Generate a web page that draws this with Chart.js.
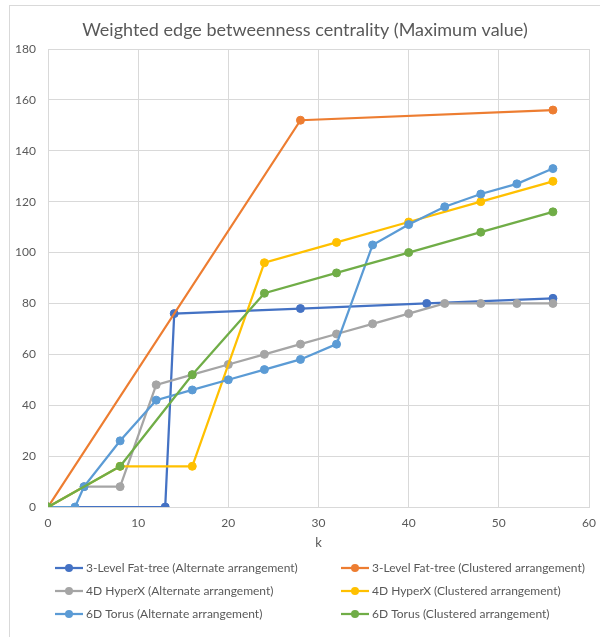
<!DOCTYPE html>
<html>
<head>
<meta charset="utf-8">
<script src="https://cdn.jsdelivr.net/npm/chart.js@4.4.0/dist/chart.umd.min.js"></script>
<style>
  html, body { margin: 0; padding: 0; background: #ffffff; }
  #wrap { position: relative; width: 600px; height: 637px; }
</style>
</head>
<body>
<div id="wrap"><canvas id="chart" width="600" height="637"></canvas></div>
<script>
// Maximum weighted edge betweenness centrality versus k
const chartTitle = 'Weighted edge betweenness centrality (Maximum value)';
const seriesNames = [
  '3-Level Fat-tree (Alternate arrangement)',
  '3-Level Fat-tree (Clustered arrangement)',
  '4D HyperX (Alternate arrangement)',
  '4D HyperX (Clustered arrangement)',
  '6D Torus (Alternate arrangement)',
  '6D Torus (Clustered arrangement)'
];
const seriesColors = ['#4472C4', '#ED7D31', '#A5A5A5', '#FFC000', '#5B9BD5', '#70AD47'];

const fatTreeAltK = [0, 13, 14, 28, 42, 56];
const fatTreeAltV = [0, 0, 76, 78, 80, 82];

const fatTreeCluK = [0, 28, 56];
const fatTreeCluV = [0, 152, 156];

const hyperXAltK = [0, 4, 8, 12, 16, 20, 24, 28, 32, 36, 40, 44, 48, 52, 56];
const hyperXAltV = [0, 8, 8, 48, 52, 56, 60, 64, 68, 72, 76, 80, 80, 80, 80];

const hyperXCluK = [0, 8, 16, 24, 32, 40, 48, 56];
const hyperXCluV = [0, 16, 16, 96, 104, 112, 120, 128];

const torusAltK = [0, 3, 4, 8, 12, 16, 20, 24, 28, 32, 36, 40, 44, 48, 52, 56];
const torusAltV = [0, 0, 8, 26, 42, 46, 50, 54, 58, 64, 103, 111, 118, 123, 127, 133];

const torusCluK = [0, 8, 16, 24, 32, 40, 48, 56];
const torusCluV = [0, 16, 52, 84, 92, 100, 108, 116];

// axis ranges and tick spacing
const xMin = 0, xMax = 60, xStep = 10;
const yMin = 0, yMax = 180, yStep = 20;

const seriesK = [fatTreeAltK, fatTreeCluK, hyperXAltK, hyperXCluK, torusAltK, torusCluK];
const seriesV = [fatTreeAltV, fatTreeCluV, hyperXAltV, hyperXCluV, torusAltV, torusCluV];

const FONT = 'Lato, "Open Sans", sans-serif';
const TEXT = '#595959';
const GRID = '#d9d9d9';

const datasets = seriesNames.map((name, i) => ({
  label: name,
  data: seriesK[i].map((k, j) => ({ x: k, y: seriesV[i][j] })),
  borderColor: seriesColors[i],
  backgroundColor: seriesColors[i],
  pointBackgroundColor: seriesColors[i],
  pointBorderColor: seriesColors[i],
  pointRadius: 4,
  pointBorderWidth: 1,
  borderWidth: 2.25,
  tension: 0,
  fill: false,
  // later series are drawn on top
  order: seriesNames.length - i
}));

// White background, outer frame and the title
const framePlugin = {
  id: 'frame',
  beforeDraw(chart) {
    const ctx = chart.ctx;
    ctx.save();
    ctx.fillStyle = '#ffffff';
    ctx.fillRect(0, 0, chart.width, chart.height);
    ctx.strokeStyle = GRID;
    ctx.lineWidth = 1;
    ctx.strokeRect(9.5, 5.5, chart.width + 20, chart.height + 20);
    ctx.fillStyle = TEXT;
    ctx.font = '18px ' + FONT;
    ctx.textAlign = 'center';
    ctx.textBaseline = 'middle';
    ctx.fillText(chartTitle, 305, 30);
    ctx.restore();
  }
};

// Two-column legend below the axis
const legendPlugin = {
  id: 'gridLegend',
  afterDraw(chart) {
    const ctx = chart.ctx;
    const cols = [55, 341];
    const rows = [568, 591, 614];
    ctx.save();
    ctx.font = '12px ' + FONT;
    ctx.textBaseline = 'middle';
    ctx.textAlign = 'left';
    chart.data.datasets.forEach((ds, i) => {
      const x = cols[i % 2];
      const y = rows[Math.floor(i / 2)];
      ctx.strokeStyle = ds.borderColor;
      ctx.lineWidth = 2.25;
      ctx.beginPath();
      ctx.moveTo(x, y);
      ctx.lineTo(x + 28, y);
      ctx.stroke();
      ctx.fillStyle = ds.borderColor;
      ctx.beginPath();
      ctx.arc(x + 14, y, 4, 0, Math.PI * 2);
      ctx.fill();
      ctx.fillStyle = TEXT;
      ctx.fillText(ds.label, x + 31, y);
    });
    ctx.restore();
  }
};

new Chart(document.getElementById('chart'), {
  type: 'line',
  data: { datasets },
  plugins: [framePlugin, legendPlugin],
  options: {
    responsive: false,
    animation: false,
    layout: { autoPadding: false, padding: { left: 0, right: 11, top: 49, bottom: 80 } },
    plugins: {
      legend: { display: false },
      tooltip: { enabled: false },
      title: { display: false }
    },
    scales: {
      x: {
        type: 'linear',
        min: xMin,
        max: xMax,
        afterFit(scale) { scale.height = 50; },
        grid: { color: GRID, lineWidth: 1, drawTicks: true, tickLength: 6, tickColor: 'rgba(0,0,0,0)' },
        border: { color: GRID },
        ticks: { stepSize: xStep, color: TEXT, padding: 3, font: { family: FONT, size: 12 } },
        title: {
          display: true,
          text: 'k',
          color: TEXT,
          font: { family: FONT, size: 13 },
          padding: { top: 0, bottom: 6 }
        }
      },
      y: {
        type: 'linear',
        min: yMin,
        max: yMax,
        afterFit(scale) { scale.width = 48; },
        grid: { color: GRID, lineWidth: 1, drawTicks: false },
        border: { color: GRID },
        ticks: { stepSize: yStep, color: TEXT, padding: 12, font: { family: FONT, size: 12 } }
      }
    }
  }
});
</script>
</body>
</html>
